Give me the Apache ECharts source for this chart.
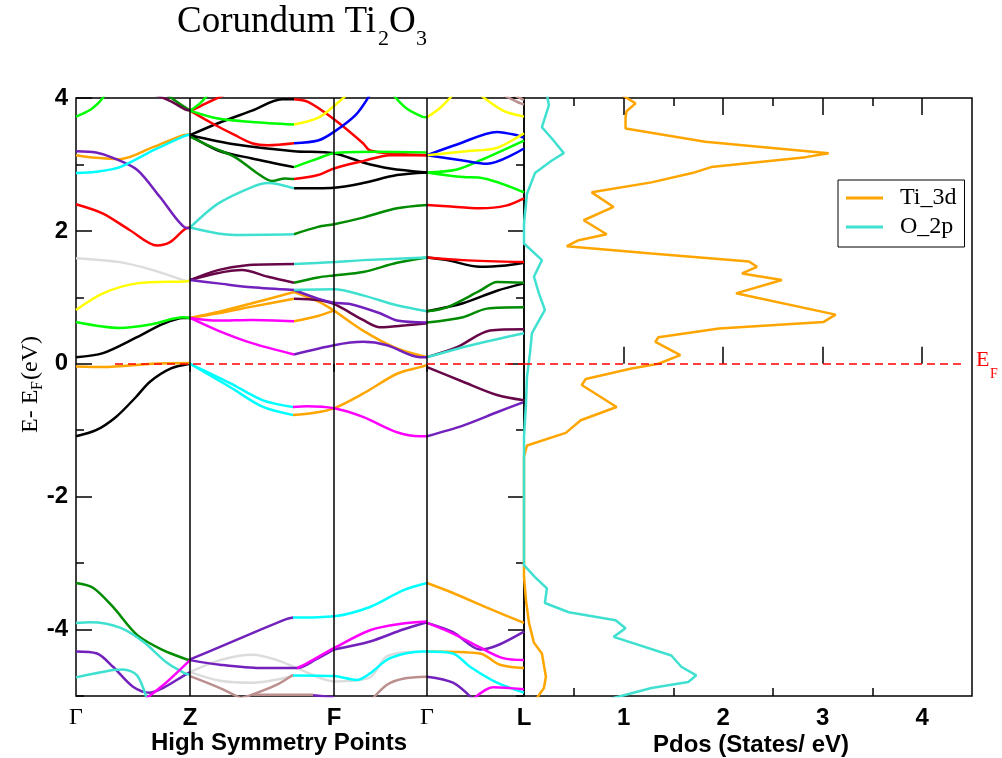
<!DOCTYPE html>
<html>
<head>
<meta charset="utf-8">
<script src="https://cdn.jsdelivr.net/npm/echarts@6.0.0/dist/echarts.min.js"></script>
<style>
  html, body { margin: 0; padding: 0; background: #fff; }
  #chart { width: 1002px; height: 758px; }
</style>
</head>
<body>
<div id="chart"></div>
<script>
// k-path: high symmetry points along the path
const kTicks = [0, 1.14, 2.58, 3.51, 4.48];
const kNames = ['Γ', 'Z', 'F', 'Γ', 'L'];
const energyTicks = [-4, -2, 0, 2, 4];
const energyMinor = [-5, -3, -1, 1, 3];
const pdosTicks = [1, 2, 3, 4];
const pdosMinor = [0.5, 1.5, 2.5, 3.5];

// band segments, each point is [k, E - EF (eV)], grouped by line colour
const grey = [
  [[0,1.59],[0.44,1.53],[0.77,1.41],[1.09,1.25],[1.14,1.24]],
  [[1.14,-4.64],[1.44,-4.46],[1.77,-4.38],[2.01,-4.46],[2.21,-4.58],[2.58,-4.78],[2.94,-4.72],[3.11,-4.40],[3.47,-4.33]],
  [[1.14,-4.64],[1.44,-4.77],[1.77,-4.80],[2.17,-4.70]]
];
const brown = [
  [[4.27,4.05],[4.4,3.95],[4.48,3.9]],
  [[4.36,4.05],[4.44,4.0],[4.48,3.97]],
  [[1.14,-4.70],[1.44,-4.88],[1.67,-5.05]],
  [[1.6,-5.05],[1.76,-4.98],[2.01,-4.83],[2.17,-4.68]],
  [[1.77,-4.98],[2.37,-4.98]],
  [[2.96,-5.05],[3.11,-4.83],[3.27,-4.74],[3.51,-4.71]]
];
const black = [
  [[0,0.10],[0.27,0.16],[0.61,0.40],[0.87,0.60],[1.07,0.69],[1.14,0.69]],
  [[0,-1.09],[0.2,-1.0],[0.4,-0.8],[0.6,-0.5],[0.74,-0.27],[0.95,-0.07],[1.14,0.0]],
  [[1.14,3.44],[1.42,3.62],[1.76,3.81],[2.06,3.98],[2.18,3.98]],
  [[1.14,3.44],[1.42,3.21],[1.76,3.09],[2.18,2.96]],
  [[1.14,3.44],[1.6,3.3],[2.18,3.2],[2.58,3.17],[2.87,3.03],[3.14,2.94],[3.51,2.88]],
  [[2.18,2.64],[2.58,2.65],[2.87,2.72],[3.21,2.84],[3.51,2.88]],
  [[3.51,1.60],[3.71,1.56],[4.04,1.46],[4.3,1.48],[4.48,1.52]],
  [[3.51,0.79],[3.87,0.91],[4.21,1.10],[4.48,1.21]]
];
const red = [
  [[0,2.40],[0.27,2.26],[0.54,2.01],[0.81,1.78],[0.94,1.83],[1.09,2.03],[1.14,2.05]],
  [[1.14,3.80],[1.3,3.92],[1.49,4.05]],
  [[1.14,3.81],[1.36,3.62],[1.59,3.44],[1.76,3.32],[1.92,3.29],[2.18,3.32]],
  [[2.18,3.98],[2.32,3.94],[2.58,3.68],[2.87,3.32],[2.94,3.21],[3.2,3.16],[3.51,3.14]],
  [[2.18,2.78],[2.42,2.84],[2.58,2.94],[2.87,3.05],[3.14,3.14],[3.51,3.14]],
  [[3.51,2.39],[3.71,2.37],[4.04,2.34],[4.3,2.38],[4.48,2.49]],
  [[3.51,1.60],[3.87,1.56],[4.48,1.53]]
];
const green = [
  [[0,3.72],[0.14,3.82],[0.24,3.95],[0.29,4.05]],
  [[0,0.63],[0.44,0.54],[0.77,0.60],[1.07,0.70],[1.14,0.69]],
  [[1.14,3.81],[1.24,3.92],[1.32,4.05]],
  [[1.14,3.81],[1.42,3.69],[1.76,3.64],[2.18,3.60]],
  [[2.18,2.96],[2.42,3.09],[2.58,3.17],[3.0,3.19],[3.51,3.18]],
  [[3.17,4.05],[3.3,3.85],[3.46,3.72],[3.51,3.71]],
  [[3.51,2.88],[3.87,2.81],[4.04,2.80],[4.48,2.58]],
  [[3.51,2.88],[3.8,2.92],[4.04,3.06],[4.48,3.36]]
];
const darkGreen = [
  [[0.91,4.05],[1.02,3.93],[1.14,3.81]],
  [[1.14,3.42],[1.36,3.26],[1.59,3.11],[1.82,2.86],[1.96,2.75],[2.09,2.79],[2.18,2.78]],
  [[2.18,1.95],[2.42,2.06],[2.58,2.10],[2.87,2.2],[3.21,2.34],[3.51,2.39]],
  [[2.18,1.22],[2.42,1.30],[2.58,1.33],[2.87,1.38],[3.21,1.52],[3.51,1.60]],
  [[3.51,0.79],[3.71,0.85],[4.04,1.10],[4.21,1.23],[4.48,1.22]],
  [[3.51,0.62],[3.87,0.70],[4.11,0.83],[4.48,0.85]],
  [[0,-3.30],[0.17,-3.37],[0.37,-3.66],[0.61,-4.08],[0.87,-4.31],[1.11,-4.45],[1.14,-4.46]]
];
const blue = [
  [[2.18,3.32],[2.42,3.36],[2.58,3.49],[2.8,3.75],[2.94,4.05]],
  [[3.51,3.14],[3.81,3.3],[4.21,3.49],[4.41,3.44],[4.48,3.40]],
  [[3.51,3.14],[3.87,3.06],[4.11,3.01],[4.48,3.24]]
];
const yellow = [
  [[0,0.81],[0.27,1.06],[0.61,1.21],[1.09,1.24],[1.14,1.25]],
  [[2.18,3.60],[2.42,3.70],[2.58,3.88],[2.71,4.05]],
  [[3.51,3.71],[3.64,3.85],[3.77,4.05]],
  [[4.04,4.05],[4.27,3.81],[4.48,3.72]],
  [[3.51,3.14],[3.9,3.2],[4.21,3.25],[4.48,3.47]]
];
const orange = [
  [[0,3.14],[0.2,3.1],[0.44,3.08],[0.77,3.26],[1.07,3.44],[1.14,3.45]],
  [[0,-0.04],[0.27,-0.05],[0.77,0.0],[1.14,0.01]],
  [[1.14,0.69],[1.42,0.78],[1.76,0.91],[2.18,1.08]],
  [[1.14,0.69],[1.42,0.76],[1.76,0.86],[2.18,0.98]],
  [[2.18,1.08],[2.42,0.94],[2.58,0.8],[2.87,0.5],[3.21,0.23],[3.51,0.10]],
  [[2.18,0.64],[2.42,0.72],[2.58,0.8]],
  [[2.17,-0.77],[2.37,-0.74],[2.58,-0.67],[2.87,-0.45],[3.21,-0.15],[3.44,-0.05],[3.51,-0.02]],
  [[3.51,-3.30],[3.77,-3.45],[4.11,-3.67],[4.48,-3.90]],
  [[3.51,-4.33],[4.04,-4.36],[4.24,-4.53],[4.48,-4.58]]
];
const maroon = [
  [[0.79,4.05],[0.95,3.95],[1.09,3.83],[1.14,3.81]],
  [[1.14,1.26],[1.42,1.41],[1.69,1.48],[2.18,1.50]],
  [[1.14,1.26],[1.4,1.36],[1.66,1.41],[1.92,1.31],[2.18,1.22]],
  [[2.18,0.98],[2.42,0.96],[2.58,0.9],[2.87,0.66],[3.04,0.55],[3.3,0.58],[3.51,0.61]],
  [[3.51,-0.05],[3.87,-0.27],[4.21,-0.47],[4.48,-0.55]],
  [[3.51,0.10],[3.81,0.25],[4.14,0.50],[4.48,0.52]]
];
const indigo = [
  [[0,3.2],[0.2,3.18],[0.37,3.1],[0.61,2.92],[0.84,2.51],[1.09,2.05],[1.14,2.04]],
  [[1.14,1.26],[1.42,1.21],[1.76,1.15],[2.18,1.11]],
  [[2.18,1.11],[2.42,0.98],[2.58,0.92],[2.74,0.9],[3.04,0.76],[3.21,0.65],[3.51,0.62]],
  [[2.18,0.14],[2.58,0.28],[2.87,0.33],[3.11,0.28],[3.44,0.10],[3.51,0.10]],
  [[3.51,-1.09],[3.87,-0.93],[4.21,-0.73],[4.47,-0.58]],
  [[0,-4.33],[0.21,-4.36],[0.37,-4.56],[0.57,-4.86],[0.74,-4.95],[0.87,-4.88],[1.07,-4.70],[1.14,-4.64]],
  [[1.14,-4.45],[1.44,-4.26],[1.77,-4.05],[2.11,-3.84],[2.17,-3.82]],
  [[1.14,-4.46],[1.44,-4.53],[1.84,-4.58],[2.21,-4.58],[2.4,-4.45],[2.58,-4.30]],
  [[2.58,-4.30],[2.94,-4.18],[3.27,-4.0],[3.51,-3.89]],
  [[3.51,-3.90],[3.77,-4.04],[4.04,-4.30],[4.21,-4.24],[4.48,-4.03]],
  [[3.51,-4.71],[3.77,-4.80],[3.97,-5.05]],
  [[2.37,-4.99],[2.58,-5.02]]
];
const turquoise = [
  [[1.14,2.05],[1.42,2.41],[1.76,2.66],[1.92,2.72],[2.18,2.64]],
  [[1.14,2.05],[1.42,1.96],[1.59,1.94],[2.18,1.95]],
  [[2.18,1.50],[2.58,1.53],[2.87,1.56],[3.51,1.60]],
  [[2.18,1.11],[2.58,1.12],[2.87,1.03],[3.21,0.88],[3.51,0.79]],
  [[3.51,0.10],[3.87,0.25],[4.21,0.37],[4.48,0.46]],
  [[0,-3.90],[0.14,-3.89],[0.44,-3.97],[0.67,-4.18],[0.91,-4.50],[1.09,-4.66],[1.14,-4.68]],
  [[0,-4.72],[0.37,-4.61],[0.47,-4.60],[0.61,-4.69],[0.71,-5.05]]
];
const cyan = [
  [[0,2.87],[0.2,2.89],[0.44,2.96],[0.77,3.21],[1.07,3.42],[1.14,3.45]],
  [[1.14,0.0],[1.54,-0.29],[1.87,-0.55],[2.17,-0.65]],
  [[1.14,0.0],[1.54,-0.35],[1.87,-0.65],[2.17,-0.77]],
  [[2.17,-3.82],[2.58,-3.80],[2.94,-3.66],[3.27,-3.41],[3.51,-3.30]],
  [[2.17,-4.69],[2.58,-4.70],[2.81,-4.76],[2.94,-4.66],[3.14,-4.43],[3.47,-4.33],[3.51,-4.33]],
  [[3.51,-4.33],[3.77,-4.36],[3.94,-4.56],[4.21,-4.80],[4.48,-4.95]]
];
const magenta = [
  [[1.14,0.69],[1.42,0.65],[1.76,0.66],[2.18,0.64]],
  [[1.14,0.69],[1.42,0.50],[1.76,0.31],[2.18,0.14]],
  [[2.17,-0.65],[2.31,-0.64],[2.58,-0.67],[2.87,-0.80],[3.21,-1.03],[3.44,-1.09],[3.51,-1.09]],
  [[0.69,-5.05],[0.9,-4.8],[1.14,-4.46]],
  [[2.21,-4.58],[2.27,-4.54],[2.58,-4.28],[2.94,-4.01],[3.27,-3.91],[3.51,-3.88]],
  [[3.51,-3.90],[3.77,-4.06],[4.04,-4.27],[4.27,-4.43],[4.48,-4.46]],
  [[3.97,-5.05],[4.17,-4.87],[4.48,-4.90]]
];

// projected DOS, each point is [E - EF (eV), states/eV]
const ti3d = [
  [4.05,0.98],[3.92,1.12],[3.80,1.03],[3.71,1.02],[3.54,1.02],[3.34,1.82],[3.17,3.06],[3.11,2.83],
  [2.96,1.88],[2.87,1.69],[2.73,1.28],[2.58,0.68],[2.36,0.90],[2.16,0.60],[1.95,0.83],[1.86,0.55],
  [1.77,0.43],[1.66,1.28],[1.54,2.26],[1.46,2.34],[1.36,2.19],[1.26,2.59],[1.06,2.13],[0.74,3.13],
  [0.63,3.01],[0.53,1.96],[0.40,1.35],[0.33,1.32],[0.13,1.57],[0.0,1.35],[-0.07,1.08],[-0.23,0.62],
  [-0.32,0.58],[-0.65,0.93],[-0.85,0.57],[-1.04,0.42],[-1.23,0.03],[-1.4,0.0],[-3.0,0.0],[-3.2,0.0],
  [-3.56,0.02],[-3.9,0.05],[-4.2,0.1],[-4.36,0.18],[-4.71,0.22],[-4.88,0.2],[-5.05,0.12]
];
const o2p = [
  [4.05,0.23],[3.89,0.25],[3.56,0.18],[3.39,0.28],[3.17,0.40],[3.06,0.28],[2.87,0.11],[2.56,0.03],
  [2.11,0.0],[1.81,0.0],[1.56,0.18],[1.31,0.10],[1.06,0.15],[0.81,0.21],[0.46,0.08],[0.16,0.06],
  [-0.2,0.03],[-0.6,0.02],[-1.1,0.0],[-3.03,0.0],[-3.21,0.11],[-3.38,0.23],[-3.6,0.21],[-3.74,0.45],
  [-3.86,0.92],[-3.98,1.02],[-4.11,0.90],[-4.39,1.48],[-4.56,1.58],[-4.69,1.73],[-4.79,1.65],
  [-4.88,1.28],[-5.05,0.85]
];

const sans = "'Liberation Sans', Arial, sans-serif";
const serif = "'Liberation Serif', 'Times New Roman', serif";

const bandSets = [
  ['#dcdcdc', grey], ['#bc8f8f', brown], ['#000000', black], ['#ff0000', red],
  ['#00ff00', green], ['#008b00', darkGreen], ['#0000ff', blue], ['#ffff00', yellow],
  ['#ffa500', orange], ['#670748', maroon], ['#7221bc', indigo], ['#40e0d0', turquoise],
  ['#00ffff', cyan], ['#ff00ff', magenta]
];

let series = [];
bandSets.forEach(([color, segs]) => {
  segs.forEach(seg => {
    series.push({
      type: 'line',
      xAxisIndex: 0,
      yAxisIndex: 0,
      data: seg,
      symbol: 'none',
      smooth: 0.3,
      silent: true,
      lineStyle: { color: color, width: 2.5 },
      itemStyle: { color: color },
      z: 3
    });
  });
});

// vertical lines at the high symmetry points
series[0].markLine = {
  symbol: ['none', 'none'],
  silent: true,
  label: { show: false },
  lineStyle: { color: '#000', width: 1.5, type: 'solid' },
  data: kTicks.slice(1, 4).map(k => ({ xAxis: k }))
};
// fermi level, left panel
series[1].markLine = {
  symbol: ['none', 'none'],
  silent: true,
  label: { show: false },
  lineStyle: { color: '#ff0000', width: 1.5, type: [8, 5] },
  data: [[{ coord: [0.39, 0] }, { coord: [4.48, 0] }]]
};

series.push({
  name: 'Ti_3d',
  type: 'line',
  xAxisIndex: 1,
  yAxisIndex: 4,
  data: ti3d.map(p => [p[1], p[0]]),
  symbol: 'none',
  lineStyle: { color: '#ffa500', width: 2.5 },
  itemStyle: { color: '#ffa500' },
  z: 4
});
series.push({
  name: 'O_2p',
  type: 'line',
  xAxisIndex: 1,
  yAxisIndex: 4,
  data: o2p.map(p => [p[1], p[0]]),
  symbol: 'none',
  lineStyle: { color: '#40e0d0', width: 2.5 },
  itemStyle: { color: '#40e0d0' },
  z: 4,
  markLine: {
    symbol: ['none', 'none'],
    silent: true,
    label: { show: false },
    lineStyle: { color: '#ff0000', width: 1.5, type: [8, 5] },
    data: [[{ coord: [0, 0] }, { coord: [4.43, 0] }]]
  }
});

const tickLine = { color: '#000', width: 1.5 };
const noLabel = { show: false };
const noLine = { show: false };

function innerX(grid, pos, ticks, len) {
  return {
    gridIndex: grid, type: 'value', position: pos, min: 0, max: 4.5,
    axisLine: noLine, splitLine: { show: false }, axisLabel: noLabel,
    axisTick: { show: true, inside: true, length: len, customValues: ticks, lineStyle: tickLine }
  };
}
function innerY(pos, ticks, len) {
  return {
    gridIndex: 0, type: 'value', position: pos, min: -5, max: 4,
    axisLine: noLine, splitLine: { show: false }, axisLabel: noLabel,
    axisTick: { show: true, inside: true, length: len, customValues: ticks, lineStyle: tickLine }
  };
}

const xAxes = [
  {
    gridIndex: 0, type: 'value', min: 0, max: 4.48,
    axisLine: noLine, splitLine: { show: false },
    axisTick: { show: true, inside: false, length: 8, customValues: kTicks.slice(1, 4), lineStyle: tickLine },
    axisLabel: {
      customValues: kTicks,
      margin: 10,
      color: '#000',
      fontFamily: sans,
      fontWeight: 'bold',
      fontSize: 24,
      formatter: function (v) {
        const i = kTicks.findIndex(t => Math.abs(t - v) < 1e-6);
        const n = kNames[i];
        return n === 'Γ' ? '{g|Γ}' : n;
      },
      rich: { g: { fontFamily: serif, fontWeight: 'normal', fontSize: 24, color: '#000' } }
    }
  },
  Object.assign(innerX(1, 'bottom', pdosTicks, 17), {
    axisLabel: {
      show: true, customValues: pdosTicks, margin: 10, color: '#000',
      fontFamily: sans, fontWeight: 'bold', fontSize: 24
    }
  }),
  innerX(1, 'bottom', pdosMinor, 8),
  innerX(1, 'top', pdosTicks, 17),
  innerX(1, 'top', pdosMinor, 8)
];

const yAxes = [
  Object.assign(innerY('left', energyTicks, 16), {
    axisLabel: {
      show: true, customValues: energyTicks, margin: 8, color: '#000',
      fontFamily: sans, fontWeight: 'bold', fontSize: 24
    }
  }),
  innerY('left', energyMinor, 8),
  innerY('right', energyTicks, 16),
  innerY('right', energyMinor, 8),
  {
    gridIndex: 1, type: 'value', min: -5, max: 4,
    axisLine: noLine, splitLine: { show: false }, axisLabel: noLabel, axisTick: { show: false }
  }
];

function txt(x, y, text, size, opts) {
  return Object.assign({
    type: 'text', x: x, y: y, silent: true,
    style: Object.assign({
      text: text, fontSize: size, fontFamily: serif, fill: '#000',
      align: 'left', verticalAlign: 'middle'
    }, (opts && opts.style) || {})
  }, (opts && opts.el) || {});
}

const rot = { el: { rotation: Math.PI / 2 } };

const graphics = [
  // title
  txt(177, 22, 'Corundum Ti', 37),
  txt(378, 39, '2', 22),
  txt(389, 22, 'O', 37),
  txt(416, 39, '3', 22),
  // y axis name, rotated
  txt(31, 433, 'E- E', 24, rot),
  txt(38, 390, 'F', 16, rot),
  txt(31, 380, '(eV)', 24, rot),
  // x axis names
  txt(279, 743, 'High Symmetry Points', 24, { style: { fontFamily: sans, fontWeight: 'bold', align: 'center' } }),
  txt(751, 745, 'Pdos (States/ eV)', 24, { style: { fontFamily: sans, fontWeight: 'bold', align: 'center' } }),
  // fermi level label
  txt(976, 360, 'E', 22, { style: { fill: '#ff0000' } }),
  txt(990, 374, 'F', 14, { style: { fill: '#ff0000' } })
];

const chart = echarts.init(document.getElementById('chart'), null, { renderer: 'canvas' });
chart.setOption({
  backgroundColor: '#ffffff',
  animation: false,
  grid: [
    { left: 76, top: 98, width: 448, height: 598, show: true, borderColor: '#000', borderWidth: 1.5, backgroundColor: 'transparent' },
    { left: 524, top: 98, width: 448, height: 598, show: true, borderColor: '#000', borderWidth: 1.5, backgroundColor: 'transparent' }
  ],
  xAxis: xAxes,
  yAxis: yAxes,
  legend: {
    data: ['Ti_3d', 'O_2p'],
    left: 838,
    top: 180,
    orient: 'vertical',
    selectedMode: false,
    icon: 'rect',
    itemWidth: 37,
    itemHeight: 3,
    itemGap: 5,
    padding: [6, 8, 8, 8],
    borderColor: '#000',
    borderWidth: 1,
    backgroundColor: '#fff',
    textStyle: { fontFamily: serif, fontSize: 24, lineHeight: 24, color: '#000', padding: [0, 0, 0, 12] }
  },
  graphic: graphics,
  series: series
});
</script>
</body>
</html>
